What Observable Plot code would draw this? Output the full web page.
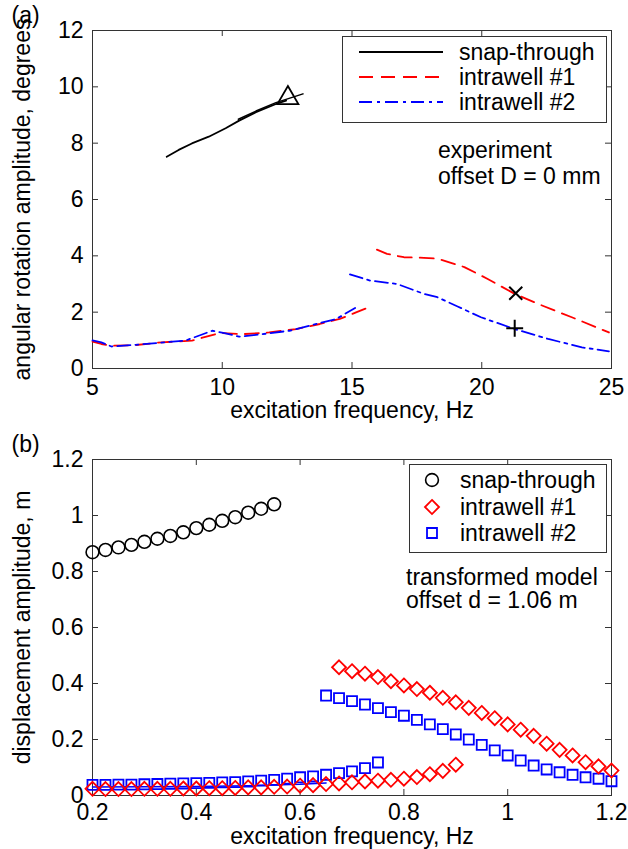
<!DOCTYPE html>
<html><head><meta charset="utf-8">
<script src="https://cdn.jsdelivr.net/npm/d3@7"></script>
<script src="https://cdn.jsdelivr.net/npm/@observablehq/plot@0.6"></script>
<style>
body{margin:0;background:#fff;}
#wrap{width:628px;height:849px;position:relative;overflow:hidden;}
#wrap svg{display:block;}
</style></head><body><div id="wrap"></div>
<script>
// ---------- Panel (a): experiment ----------
const xTicksA = [5, 10, 15, 20, 25];
const yTicksA = [0, 2, 4, 6, 8, 10, 12];
const snapA1 = [[7.86,7.52],[8.32,7.76],[8.83,7.99],[9.48,8.23],[10.13,8.53],[10.65,8.80],[11.30,9.10],[12.07,9.39],[12.46,9.51]];
const snapA2 = [[10.62,8.85],[11.30,9.14],[12.07,9.44],[13.11,9.75]];
const intra1LowA = [[5.0,0.95],[5.34,0.87],[5.73,0.81],[6.63,0.83],[7.67,0.93],[8.83,0.99],[9.74,1.22],[10.0,1.26],[10.78,1.22],[11.81,1.28],[12.85,1.40],[13.76,1.58],[14.53,1.76],[15.18,2.0],[15.63,2.17]];
const intra1HighA = [[15.96,4.22],[16.35,4.07],[17.0,3.95],[17.77,3.93],[18.29,3.90],[19.33,3.60],[20.23,3.18],[21.27,2.65],[22.18,2.29],[23.47,1.82],[24.9,1.28]];
const intra2LowA = [[5.0,1.0],[5.34,0.93],[5.73,0.78],[6.63,0.84],[8.58,0.99],[9.61,1.34],[10.13,1.25],[10.65,1.13],[11.55,1.22],[12.59,1.34],[13.63,1.58],[14.40,1.76],[15.12,2.15]];
const intra2HighA = [[14.92,3.34],[15.70,3.12],[16.74,3.0],[17.77,2.65],[18.29,2.53],[19.07,2.20],[19.97,1.82],[21.27,1.40],[22.56,1.05],[23.86,0.75],[24.9,0.61]];
const triangleA = [[12.53,9.60]];
const timesA = [[21.31,2.67]];
const plusA = [[21.27,1.43]];
const legendLabelsA = ["snap-through", "intrawell #1", "intrawell #2"];
const noteA = ["experiment", "offset D = 0 mm"];
const xLabelA = "excitation frequency, Hz";
const yLabelA = "angular rotation amplitude, degrees";

// ---------- Panel (b): transformed model ----------
const xTicksB = [0.2, 0.4, 0.6, 0.8, 1, 1.2];
const yTicksB = [0, 0.2, 0.4, 0.6, 0.8, 1, 1.2];
const freqSnapB = [0.2,0.225,0.25,0.275,0.3,0.325,0.35,0.375,0.4,0.425,0.45,0.475,0.5,0.525,0.55];
const ampSnapB  = [0.869,0.877,0.886,0.895,0.906,0.917,0.927,0.940,0.955,0.967,0.981,0.994,1.010,1.024,1.040];
const freqI1LowB = [0.2,0.225,0.25,0.275,0.3,0.325,0.35,0.375,0.4,0.425,0.45,0.475,0.5,0.525,0.55,0.575,0.6,0.625,0.65,0.675,0.7,0.725,0.75,0.775,0.8,0.825,0.85,0.875,0.9];
const ampI1LowB  = [0.024,0.023,0.023,0.023,0.024,0.024,0.024,0.025,0.025,0.026,0.026,0.027,0.029,0.029,0.031,0.032,0.035,0.037,0.041,0.043,0.047,0.050,0.053,0.056,0.060,0.066,0.076,0.088,0.110];
const freqI1HighB = [0.675,0.7,0.725,0.75,0.775,0.8,0.825,0.85,0.875,0.9,0.925,0.95,0.975,1.0,1.025,1.05,1.075,1.1,1.125,1.15,1.175,1.2];
const ampI1HighB  = [0.458,0.444,0.435,0.423,0.408,0.393,0.380,0.367,0.349,0.333,0.313,0.295,0.276,0.254,0.235,0.213,0.185,0.163,0.143,0.119,0.104,0.089];
const freqI2LowB = [0.2,0.225,0.25,0.275,0.3,0.325,0.35,0.375,0.4,0.425,0.45,0.475,0.5,0.525,0.55,0.575,0.6,0.625,0.65,0.675,0.7,0.725,0.75];
const ampI2LowB  = [0.038,0.038,0.039,0.039,0.040,0.041,0.042,0.043,0.044,0.045,0.047,0.048,0.050,0.053,0.056,0.060,0.065,0.068,0.074,0.080,0.086,0.098,0.118];
const freqI2HighB = [0.65,0.675,0.7,0.725,0.75,0.775,0.8,0.825,0.85,0.875,0.9,0.925,0.95,0.975,1.0,1.025,1.05,1.075,1.1,1.125,1.15,1.175,1.2];
const ampI2HighB  = [0.357,0.348,0.337,0.325,0.312,0.298,0.285,0.270,0.254,0.237,0.218,0.200,0.181,0.161,0.143,0.125,0.107,0.093,0.083,0.074,0.065,0.060,0.051];
const lineI2B = [[0.2,0.030],[0.4,0.032],[0.5,0.035],[0.6,0.040],[0.65,0.045]];
const legendLabelsB = ["snap-through", "intrawell #1", "intrawell #2"];
const noteB = ["transformed model", "offset d = 1.06 m"];
const xLabelB = "excitation frequency, Hz";
const yLabelB = "displacement amplitude, m";

// ---------- rendering ----------
const FONT = "'Liberation Sans', Arial, Helvetica, sans-serif";
const FS = 23;
const AX = "#333";
const W = 628, ML = 92, MR = 17;
const PW = W - ML - MR;
const pairs = (xs, ys) => xs.map((x, i) => ({x, y: ys[i]}));
const pt = a => a.map(([x, y]) => ({x, y}));

function frameTicks(xt, yt, ph) {
  return [
    Plot.tickX(xt, {x: d => d, insetTop: ph - 6, stroke: AX}),
    Plot.tickX(xt, {x: d => d, insetBottom: ph - 6, stroke: AX}),
    Plot.tickY(yt, {y: d => d, insetRight: PW - 6, stroke: AX}),
    Plot.tickY(yt, {y: d => d, insetLeft: PW - 6, stroke: AX}),
    Plot.frame({stroke: AX})
  ];
}
function axes(xt, yt, xl, yl, panel, xpad, xdy) {
  return [
    Plot.axisX(xt, {tickSize: 0, tickPadding: xpad, label: null, tickFormat: d => String(d), fontSize: FS}),
    Plot.axisY(yt, {tickSize: 0, tickPadding: 9, label: null, tickFormat: d => String(d), fontSize: FS}),
    Plot.text([xl], {text: d => d, frameAnchor: "bottom", dy: xdy, textAnchor: "middle", lineAnchor: "middle", fontSize: FS}),
    Plot.text([yl], {text: d => d, frameAnchor: "left", dx: -70, rotate: -90, textAnchor: "middle", lineAnchor: "middle", fontSize: FS}),
    Plot.text([panel], {text: d => d, frameAnchor: "top-left", dx: -81, dy: -15, textAnchor: "start", lineAnchor: "middle", fontSize: FS})
  ];
}

const H1 = 425, MT1 = 30, MB1 = 57;
const PH1 = H1 - MT1 - MB1;
const red = "#ff0000", blue = "#0000ff";
const dash = "14,8", dashdot = "13,5,3,5";

const chartA = Plot.plot({
  width: W, height: H1, marginLeft: ML, marginRight: MR, marginTop: MT1, marginBottom: MB1,
  x: {domain: [5, 25]}, y: {domain: [0, 12]},
  style: {fontFamily: FONT, fontSize: FS + "px", color: "#000", background: "#fff"},
  marks: [
    ...frameTicks(xTicksA, yTicksA, PH1),
    ...axes(xTicksA, yTicksA, xLabelA, yLabelA, "(a)", 10, 42),
    Plot.line(pt(intra1LowA), {x: "x", y: "y", stroke: red, strokeWidth: 1.8, strokeDasharray: dash}),
    Plot.line(pt(intra1HighA), {x: "x", y: "y", stroke: red, strokeWidth: 1.8, strokeDasharray: dash}),
    Plot.line(pt(intra2LowA), {x: "x", y: "y", stroke: blue, strokeWidth: 1.8, strokeDasharray: dashdot}),
    Plot.line(pt(intra2HighA), {x: "x", y: "y", stroke: blue, strokeWidth: 1.8, strokeDasharray: dashdot}),
    Plot.line(pt(snapA1), {x: "x", y: "y", stroke: "#000", strokeWidth: 1.8}),
    Plot.line(pt(snapA2), {x: "x", y: "y", stroke: "#000", strokeWidth: 1.5}),
    Plot.dot(pt(triangleA), {x: "x", y: "y", symbol: "triangle2", r: 10, stroke: "#000", strokeWidth: 1.8, fill: "none"}),
    Plot.dot(pt(timesA), {x: "x", y: "y", symbol: "times", r: 6, stroke: "#000", strokeWidth: 2}),
    Plot.dot(pt(plusA), {x: "x", y: "y", symbol: "plus", r: 5.5, stroke: "#000", strokeWidth: 2})
  ]
});

const H2 = 424, MT2 = 34, MB2 = 54;
const PH2 = H2 - MT2 - MB2;
const chartB = Plot.plot({
  width: W, height: H2, marginLeft: ML, marginRight: MR, marginTop: MT2, marginBottom: MB2,
  x: {domain: [0.2, 1.2]}, y: {domain: [0, 1.2]},
  style: {fontFamily: FONT, fontSize: FS + "px", color: "#000", background: "#fff"},
  marks: [
    ...frameTicks(xTicksB, yTicksB, PH2),
    ...axes(xTicksB, yTicksB, xLabelB, yLabelB, "(b)", 8, 41),
    Plot.line(pt(lineI2B), {x: "x", y: "y", stroke: blue, strokeWidth: 1.5}),
    Plot.dot(pairs(freqSnapB, ampSnapB), {x: "x", y: "y", symbol: "circle", r: 6.4, stroke: "#000", strokeWidth: 1.6, fill: "none"}),
    Plot.dot(pairs(freqI2LowB, ampI2LowB), {x: "x", y: "y", symbol: "square2", r: 6.4, stroke: blue, strokeWidth: 1.8, fill: "none"}),
    Plot.dot(pairs(freqI2HighB, ampI2HighB), {x: "x", y: "y", symbol: "square2", r: 6.4, stroke: blue, strokeWidth: 1.8, fill: "none"}),
    Plot.dot(pairs(freqI1LowB, ampI1LowB), {x: "x", y: "y", symbol: "diamond2", r: 6.3, stroke: red, strokeWidth: 1.8, fill: "none"}),
    Plot.dot(pairs(freqI1HighB, ampI1HighB), {x: "x", y: "y", symbol: "diamond2", r: 6.3, stroke: red, strokeWidth: 1.8, fill: "none"})
  ]
});

const wrap = document.getElementById("wrap");
wrap.appendChild(chartA);
wrap.appendChild(chartB);

// ---------- legends & notes ----------
function addText(g, str, x, y) {
  g.append("text").attr("x", x).attr("y", y).attr("dy", "0.35em")
    .attr("text-anchor", "start")
    .attr("font-family", FONT).attr("font-size", FS).attr("fill", "#000").text(str);
}
{
  const g = d3.select(chartA).append("g");
  g.append("rect").attr("x", 342.5).attr("y", 36.5).attr("width", 264).attr("height", 86)
    .attr("fill", "#fff").attr("stroke", AX);
  const styles = [["#000", null], [red, dash], [blue, dashdot]];
  const rows = [52, 77, 102];
  legendLabelsA.forEach((lab, i) => {
    g.append("line").attr("x1", 359).attr("x2", 443).attr("y1", rows[i]).attr("y2", rows[i])
      .attr("stroke", styles[i][0]).attr("stroke-width", 1.8)
      .attr("stroke-dasharray", styles[i][1]);
    addText(g, lab, 459, rows[i]);
  });
  addText(g, noteA[0], 438, 150);
  addText(g, noteA[1], 438, 176);
}
{
  const g = d3.select(chartB).append("g");
  g.append("rect").attr("x", 409.5).attr("y", 39.5).attr("width", 197).attr("height", 88)
    .attr("fill", "#fff").attr("stroke", AX);
  const rows = [55, 82, 108];
  const syms = [[d3.symbolCircle, "#000"], [d3.symbolDiamond2, red], [d3.symbolSquare2, blue]];
  legendLabelsB.forEach((lab, i) => {
    if (i === 0) {
      g.append("circle").attr("cx", 432).attr("cy", rows[i]).attr("r", 6.4)
        .attr("fill", "none").attr("stroke", "#000").attr("stroke-width", 1.6);
    } else {
      g.append("path").attr("transform", `translate(432,${rows[i]})`)
        .attr("d", d3.symbol(syms[i][0], Math.PI * 6.35 * 6.35)())
        .attr("fill", "none").attr("stroke", syms[i][1]).attr("stroke-width", 1.8);
    }
    addText(g, lab, 460, rows[i]);
  });
  addText(g, noteB[0], 406, 152);
  addText(g, noteB[1], 406, 175);
}
</script></body></html>
